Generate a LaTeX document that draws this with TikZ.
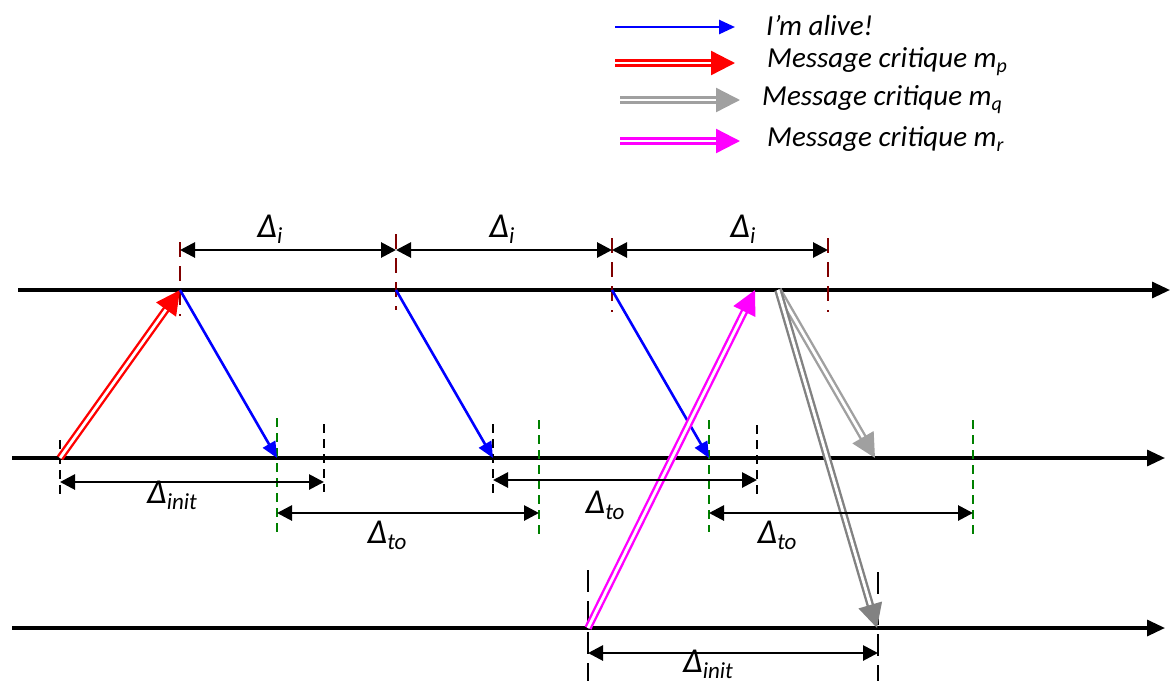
\documentclass[tikz,border=0pt]{standalone}
\usepackage{fontspec}
\setmainfont{Carlito}
\usetikzlibrary{arrows.meta}
\definecolor{dkred}{RGB}{128,0,0}
\definecolor{dkgreen}{RGB}{0,128,0}
\definecolor{gryA}{RGB}{160,160,160}
\definecolor{gryB}{RGB}{130,130,130}
\definecolor{mag}{RGB}{255,0,255}
\newcommand{\sub}[3]{#2\raisebox{-0.35ex}{\fontsize{#1}{#1}\selectfont #3}}
\tikzset{
  timeline/.style={line width=3.2pt,-{Triangle[length=18pt,width=16pt]}},
  alive/.style={blue,line width=2.6pt,-{Triangle[length=16pt,width=14pt]}},
  crit/.style={#1,line width=2.4pt,double=white,double distance=2.8pt,-{Triangle[length=24pt,width=24pt,fill=#1]}},
  dim/.style={line width=2.8pt,{Triangle[length=15pt,width=15pt]}-{Triangle[length=15pt,width=15pt]}},
  rtick/.style={dkred,line width=2.6pt,dash pattern=on 15pt off 9pt},
  btick/.style={black,line width=2.6pt,dash pattern=on 9pt off 6pt},
  gtick/.style={dkgreen,line width=2.6pt,dash pattern=on 9pt off 6pt},
  lbl/.style={font=\fontsize{35}{35}\selectfont\itshape,inner sep=0pt},
  leg/.style={font=\fontsize{29}{29}\selectfont\itshape,inner sep=0pt,anchor=west}
}
\begin{document}
\begin{tikzpicture}[x=1pt,y=-1pt]
\useasboundingbox (0,0) rectangle (1175,681);
% timelines
\coordinate (t1s) at (18,290); \coordinate (t1e) at (1170,290);
\coordinate (t2s) at (12,458); \coordinate (t2e) at (1165,458);
\coordinate (t3s) at (12,628); \coordinate (t3e) at (1165,628);
\draw[timeline] (t1s) -- (t1e);
\draw[timeline] (t2s) -- (t2e);
\draw[timeline] (t3s) -- (t3e);
% top ticks
\foreach \n/\x/\a/\b in {r1/180/242/316, r2/396/234/310, r3/612/238/312, r4/828/238/312}{
  \coordinate (\n a) at (\x,\a); \coordinate (\n b) at (\x,\b);
  \draw[rtick] (\n a) -- (\n b);
}
\coordinate (d1a) at (180,250); \coordinate (d1b) at (396,250);
\coordinate (d2a) at (396,250); \coordinate (d2b) at (612,250);
\coordinate (d3a) at (612,250); \coordinate (d3b) at (828,250);
\draw[dim] (d1a) -- (d1b);
\draw[dim] (d2a) -- (d2b);
\draw[dim] (d3a) -- (d3b);
\node[lbl] (li1) at (270,229) {\sub{23}{Δ}{i}};
\node[lbl] (li2) at (502,229) {\sub{23}{Δ}{i}};
\node[lbl] (li3) at (743,229) {\sub{23}{Δ}{i}};
% middle ticks
\foreach \n/\x/\a/\b in {k1/60/440/496, k2/324/424/492, k3/493/424/496, k4/757/425/494}{
  \coordinate (\n a) at (\x,\a); \coordinate (\n b) at (\x,\b);
  \draw[btick] (\n a) -- (\n b);
}
\foreach \n/\x/\a/\b in {g1/277/418/534, g2/539/420/534, g3/709/420/532, g4/973/420/534}{
  \coordinate (\n a) at (\x,\a); \coordinate (\n b) at (\x,\b);
  \draw[gtick] (\n a) -- (\n b);
}
% bottom ticks
\coordinate (k5a) at (588,570); \coordinate (k5b) at (588,681);
\coordinate (k6a) at (878,572); \coordinate (k6b) at (878,681);
\draw[btick,dash pattern=on 22pt off 9pt] (k5a) -- (k5b);
\draw[btick,dash pattern=on 22pt off 9pt] (k6a) -- (k6b);
% message points
\coordinate (p0) at (60,458); \coordinate (p1) at (180,290);
\coordinate (a1) at (277,458); \coordinate (s2) at (396,290);
\coordinate (a2) at (493,458); \coordinate (s3) at (612,290);
\coordinate (a3) at (709,458);
\coordinate (r0) at (588,628); \coordinate (r1) at (755,290);
\coordinate (q0) at (778,290); \coordinate (q1) at (875,458);
\coordinate (q2) at (877,628);
\draw[crit=red] (p0) -- (p1);
\draw[alive] (p1) -- (a1);
\draw[alive] (s2) -- (a2);
\draw[alive] (s3) -- (a3);
\draw[crit=mag] (r0) -- (r1);
\draw[crit=gryA] (q0) -- (q1);
\draw[crit=gryB] (q0) -- (q2);
% dimensions middle/bottom
\coordinate (e1a) at (60,482); \coordinate (e1b) at (324,482);
\coordinate (e2a) at (277,513); \coordinate (e2b) at (539,513);
\coordinate (e3a) at (493,480); \coordinate (e3b) at (757,480);
\coordinate (e4a) at (709,513); \coordinate (e4b) at (973,513);
\coordinate (e5a) at (588,653); \coordinate (e5b) at (878,653);
\draw[dim] (e1a) -- (e1b);
\draw[dim] (e2a) -- (e2b);
\draw[dim] (e3a) -- (e3b);
\draw[dim] (e4a) -- (e4b);
\draw[dim] (e5a) -- (e5b);
\node[lbl] (l1) at (172,495) {\sub{23}{Δ}{init}};
\node[lbl] (l2) at (387,535) {\sub{23}{Δ}{to}};
\node[lbl] (l3) at (605,505) {\sub{23}{Δ}{to}};
\node[lbl] (l4) at (777,535) {\sub{23}{Δ}{to}};
\node[lbl] (l5) at (708,664) {\sub{23}{Δ}{init}};
% legend
\coordinate (la1) at (615,27); \coordinate (la2) at (735,27);
\coordinate (lb1) at (615,63); \coordinate (lb2) at (735,63);
\coordinate (lc1) at (620,100); \coordinate (lc2) at (740,100);
\coordinate (ld1) at (620,141); \coordinate (ld2) at (740,141);
\draw[alive] (la1) -- (la2);
\draw[crit=red] (lb1) -- (lb2);
\draw[crit=gryA] (lc1) -- (lc2);
\draw[crit=mag] (ld1) -- (ld2);
\node[leg] (ta) at (766,26) {I’m alive!};
\node[leg] (tb) at (767,62) {Message critique \sub{20}{m}{p}};
\node[leg] (tc) at (762,100) {Message critique \sub{20}{m}{q}};
\node[leg] (td) at (767,139) {Message critique \sub{20}{m}{r}};
\end{tikzpicture}
\end{document}
